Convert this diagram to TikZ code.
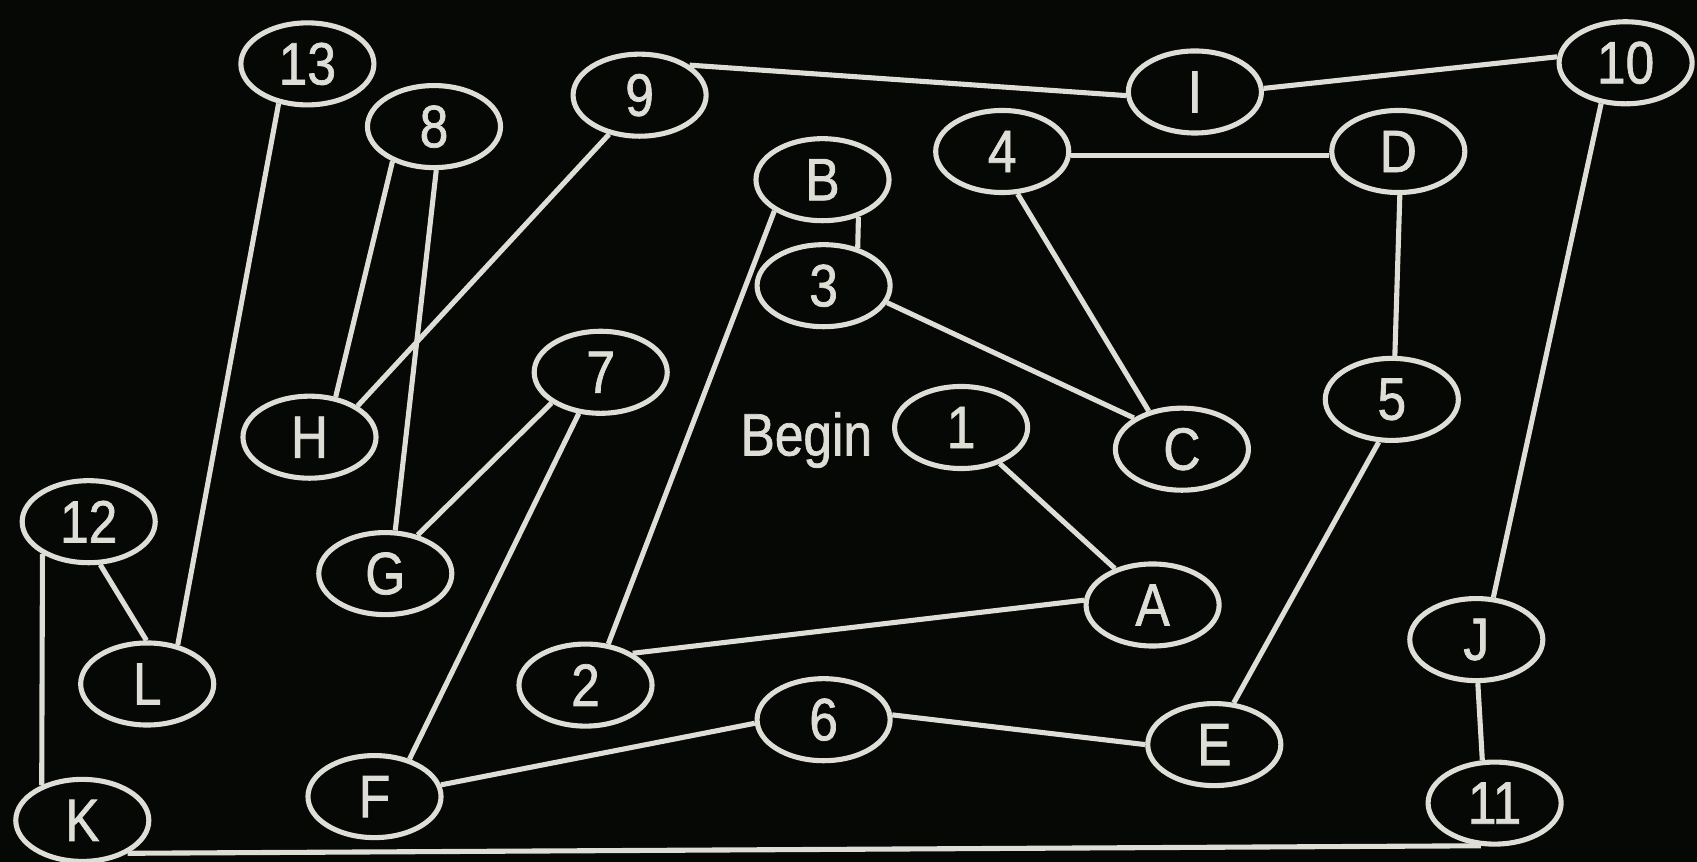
\documentclass[tikz,border=0pt]{standalone}
\usepackage{fontspec}
\setmainfont{Liberation Sans}
\newfontfamily\nodefont[FakeStretch=0.86,FakeBold=1.2]{Liberation Sans}
\usetikzlibrary{shapes.geometric}
\definecolor{bg}{HTML}{050805}
\definecolor{fg}{HTML}{DEDED6}
\tikzset{
  vtx/.style={ellipse, draw=fg, line width=1.45pt, minimum width=1.33cm, minimum height=0.82cm, inner sep=0pt, text=fg, font=\nodefont\fontsize{17}{17}\selectfont},
  edge/.style={draw=fg, line width=1.45pt},
  lbl/.style={text=fg, font=\nodefont\fontsize{17}{17}\selectfont, inner sep=0pt}
}
\begin{document}
\begin{tikzpicture}[x=0.01cm,y=-0.01cm]
\fill[bg] (0,0) rectangle (1697,862);
\useasboundingbox (0,0) rectangle (1697,862);
\node[vtx] (n13) at (307.4,63.9) {13};
\node[vtx] (n8) at (434.0,126.6) {8};
\node[vtx] (n9) at (639.6,95.2) {9};
\node[vtx] (nI) at (1194.9,92.0) {I};
\node[vtx] (n10) at (1625.6,62.8) {10};
\node[vtx] (nB) at (822.5,179.7) {B};
\node[vtx] (n4) at (1002.2,151.5) {4};
\node[vtx] (nD) at (1398.3,151.5) {D};
\node[vtx] (n3) at (823.6,285.7) {3};
\node[vtx] (n7) at (600.7,372.3) {7};
\node[vtx] (nH) at (309.5,437.2) {H};
\node[vtx] (n1) at (961.1,427.5) {1};
\node[vtx] (nC) at (1181.9,449.2) {C};
\node[vtx] (n5) at (1391.8,399.4) {5};
\node[vtx] (n12) at (88.7,521.7) {12};
\node[vtx] (nG) at (385.3,573.6) {G};
\node[vtx] (nA) at (1152.6,605.0) {A};
\node[vtx] (nJ) at (1476.3,639.6) {J};
\node[vtx] (nL) at (147.2,684.0) {L};
\node[vtx] (n2) at (585.5,685.1) {2};
\node[vtx] (n6) at (823.6,719.7) {6};
\node[vtx] (nE) at (1214.3,744.6) {E};
\node[vtx] (nF) at (374.5,796.6) {F};
\node[vtx] (nK) at (82.3,820.4) {K};
\node[vtx] (n11) at (1494.6,803.1) {11};
\node[lbl] (begin) at (806.3,440) {Begin};

\draw[edge] (n13.-126) -- (nL.52);
\draw[edge] (n8.-140) -- (nH.57);
\draw[edge] (n8.-87) -- (nG.77);
\draw[edge] (n9.-128) -- (nH.33);
\draw[edge] (n9.31) -- (nI.183);
\draw[edge] (nI.3) -- (n10.175);
\draw[edge] (n10.-121) -- (nJ.68);
\draw[edge] (nJ.-88) -- (n11.106);
\draw[edge] (n12.-75) -- (nL.91);
\draw[edge] (n12.-145) -- (nK.139);
\draw[edge] (nK.-36) -- (n11.-108);
\draw[edge] (n7.-148) -- (nG.50);
\draw[edge] (n7.-118) -- (nF.47);
\draw[edge] (nF.10) -- (n6.183);
\draw[edge] (n6.4) -- (nE.180);
\draw[edge] (nE.65) -- (n5.-107);
\draw[edge] (n5.86) -- (nD.-88);
\draw[edge] (nD.183) -- (n4.-3);
\draw[edge] (n4.-70) -- (nC.131);
\draw[edge] (n3.-15) -- (nC.147);
\draw[edge] (nB.-46) -- (n3.48);
\draw[edge] (nB.-147) -- (n2.61);
\draw[edge] (n2.34) -- (nA.176);
\draw[edge] (nA.136) -- (n1.-43);
\end{tikzpicture}
\end{document}
